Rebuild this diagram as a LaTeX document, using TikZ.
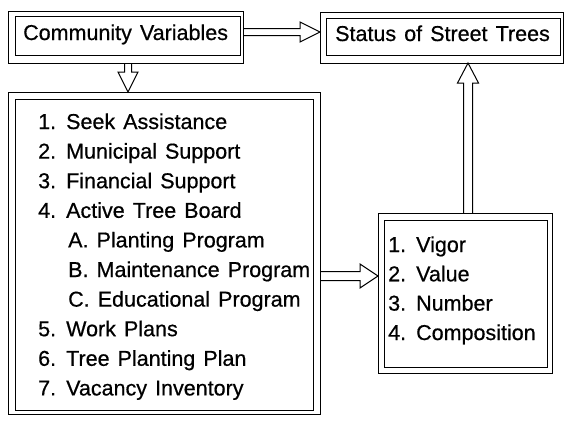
\documentclass[tikz,border=0pt]{standalone}
\usepackage{fontspec}
\setmainfont{Liberation Sans}[WordSpace=1.35, FakeBold=0.6]
\usetikzlibrary{calc,fit}
\tikzset{
  frame/.style={draw=black, line width=1pt, inner sep=0pt, outer sep=0pt},
  txt/.style={inner sep=0pt, anchor=base west, font=\fontsize{21.5}{26}\selectfont},
  arrowline/.style={draw=black, line width=1pt, line join=miter}
}
\newcommand{\hollowarrow}[5]{%
  \path ($(#2)!#5!(#1)$) coordinate (hb);
  \draw[arrowline] ($(#1)!#3!90:(#2)$) -- ($(hb)!#3!-90:(#1)$) -- ($(hb)!#4!-90:(#1)$) -- (#2)
    -- ($(hb)!#4!90:(#1)$) -- ($(hb)!#3!90:(#1)$) -- ($(#1)!#3!-90:(#2)$);}
\begin{document}
\begin{tikzpicture}[x=1pt,y=-1pt]
\useasboundingbox (0,0) rectangle (564,423);
% frames
\node[frame, fit={(8,11) (243,63)}] (cvO) {};
\node[frame, fit={(15,16) (240,55)}] (cvI) {};
\node[frame, fit={(320,12) (563.5,63)}] (stO) {};
\node[frame, fit={(326,18) (560,55)}] (stI) {};
\node[frame, fit={(8,92) (320,414)}] (bigO) {};
\node[frame, fit={(15,99) (313,410)}] (bigI) {};
\node[frame, fit={(378,213) (552,373)}] (vgO) {};
\node[frame, fit={(384,220) (547,367)}] (vgI) {};
% texts
\node[txt] (cvT) at (23,40) {Community Variables};
\node[txt] (stT) at (335,41) {Status of Street Trees};
\node[txt] (b1) at (38,129) {1. Seek Assistance};
\node[txt] (b2) at (38,158.6) {2. Municipal Support};
\node[txt] (b3) at (38,188.2) {3. Financial Support};
\node[txt] (b4) at (38,217.8) {4. Active Tree Board};
\node[txt] (b5) at (68,247.4) {A. Planting Program};
\node[txt] (b6) at (68,277) {B. Maintenance Program};
\node[txt] (b7) at (68,306.6) {C. Educational Program};
\node[txt] (b8) at (38,336.2) {5. Work Plans};
\node[txt] (b9) at (38,365.8) {6. Tree Planting Plan};
\node[txt] (b10) at (38,395.4) {7. Vacancy Inventory};
\node[txt] (v1) at (388,252) {1. Vigor};
\node[txt] (v2) at (388,281.3) {2. Value};
\node[txt] (v3) at (388,310.6) {3. Number};
\node[txt] (v4) at (388,340) {4. Composition};
% helper coordinates
\coordinate (y32) at (0,32);
\coordinate (x128) at (128,0);
\coordinate (y277) at (0,276);
\coordinate (x468) at (468,0);
% connectors
\hollowarrow{cvO.east |- y32}{stO.west |- y32}{3.5pt}{10pt}{20pt}
\hollowarrow{cvO.south -| x128}{bigO.north -| x128}{3.5pt}{10pt}{20pt}
\hollowarrow{bigO.east |- y277}{vgO.west |- y277}{4.5pt}{12pt}{18pt}
\hollowarrow{vgO.north -| x468}{stO.south -| x468}{4.5pt}{10.5pt}{20pt}
\end{tikzpicture}
\end{document}
